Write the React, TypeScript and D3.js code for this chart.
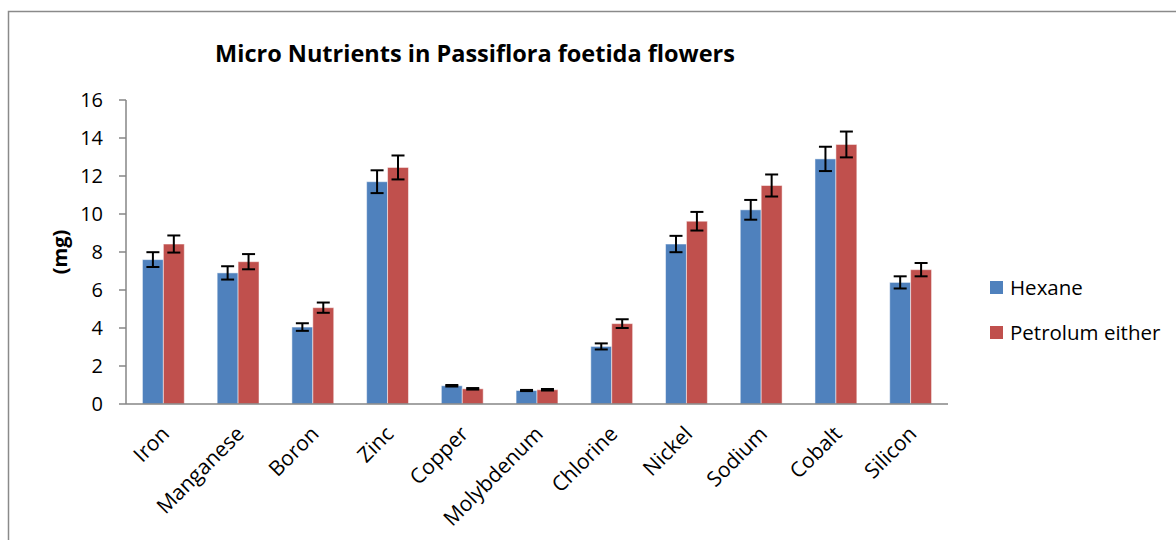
import React from 'react';
import * as d3 from 'd3';

const categories = ['Iron', 'Manganese', 'Boron', 'Zinc', 'Copper', 'Molybdenum', 'Chlorine', 'Nickel', 'Sodium', 'Cobalt', 'Silicon'];
const hexane = [7.6, 6.9, 4.05, 11.7, 0.96, 0.71, 3.03, 8.42, 10.22, 12.9, 6.4];
const hexaneErr = [0.39, 0.35, 0.2, 0.6, 0.04, 0.03, 0.16, 0.43, 0.52, 0.64, 0.32];
const petrol = [8.42, 7.49, 5.07, 12.45, 0.8, 0.75, 4.23, 9.62, 11.5, 13.66, 7.07];
const petrolErr = [0.45, 0.4, 0.27, 0.63, 0.04, 0.04, 0.23, 0.49, 0.58, 0.68, 0.35];
const yTicks = [0, 2, 4, 6, 8, 10, 12, 14, 16];

const series = [
  { name: 'Hexane', values: hexane, errs: hexaneErr, color: '#4F81BD' },
  { name: 'Petrolum either', values: petrol, errs: petrolErr, color: '#C0504D' },
];

const font = '"Open Sans", Lato, sans-serif';

export default function App() {
  const width = 1176;
  const height = 540;
  const left = 126, right = 948, top = 100, bottom = 404;

  const x = d3.scaleBand<string>().domain(categories).range([left, right]);
  const y = d3.scaleLinear().domain([0, 16]).range([bottom, top]);
  const barW = x.step() * 0.28;

  return (
    <svg width={width} height={height} style={{ position: 'absolute', left: 0, top: 0, background: '#fff' }}>
      <rect x={8.5} y={11.5} width={1200} height={560} fill="#fff" stroke="#8a8a8a" strokeWidth={1.5} />
      <text x={475} y={62} textAnchor="middle" fontFamily={font} fontWeight="bold" fontSize={23.5}>
        Micro Nutrients in Passiflora foetida flowers
      </text>

      {/* y axis */}
      <line x1={left} x2={left} y1={top} y2={bottom} stroke="#868686" strokeWidth={1.5} />
      {yTicks.map(t => (
        <g key={t}>
          <line x1={left - 7} x2={left} y1={y(t)} y2={y(t)} stroke="#868686" strokeWidth={1.5} />
          <text x={103} y={y(t)} dy="0.36em" textAnchor="end" fontFamily={font} fontSize={20}>{t}</text>
        </g>
      ))}
      <text transform={`translate(67,${(top + bottom) / 2}) rotate(-90)`} textAnchor="middle" fontFamily={font} fontWeight="bold" fontSize={20}>(mg)</text>

      {/* bars */}
      {categories.map((c, i) => {
        const cx = (x(c) ?? 0) + x.bandwidth() / 2;
        return (
          <g key={c}>
            {series.map((s, j) => {
              const bx = cx - barW + j * barW;
              const v = s.values[i];
              const e = s.errs[i];
              const mx = bx + barW / 2;
              return (
                <g key={s.name}>
                  <rect x={bx} y={y(v)} width={barW} height={bottom - y(v)} fill={s.color} stroke="#fff" strokeOpacity={0.5} strokeWidth={1} />
                  <line x1={mx} x2={mx} y1={y(v + e)} y2={y(v - e)} stroke="#000" strokeWidth={2} />
                  <line x1={mx - 6.5} x2={mx + 6.5} y1={y(v + e)} y2={y(v + e)} stroke="#000" strokeWidth={2} />
                  <line x1={mx - 6.5} x2={mx + 6.5} y1={y(v - e)} y2={y(v - e)} stroke="#000" strokeWidth={2} />
                </g>
              );
            })}
          </g>
        );
      })}

      {/* x axis */}
      <line x1={left} x2={right} y1={bottom} y2={bottom} stroke="#868686" strokeWidth={1.5} />
      {categories.map(c => {
        const cx = (x(c) ?? 0) + x.bandwidth() / 2;
        return (
          <text key={c} transform={`translate(${cx + 2},${bottom + 26}) rotate(-45)`} textAnchor="end" dy="0.35em" fontFamily={font} fontSize={21}>{c}</text>
        );
      })}

      {/* legend */}
      {series.map((s, j) => (
        <g key={s.name} transform={`translate(990,${281 + j * 45})`}>
          <rect width={13} height={13} fill={s.color} />
          <text x={20} y={6.5} dy="0.36em" fontFamily={font} fontSize={20.5}>{s.name}</text>
        </g>
      ))}
    </svg>
  );
}
